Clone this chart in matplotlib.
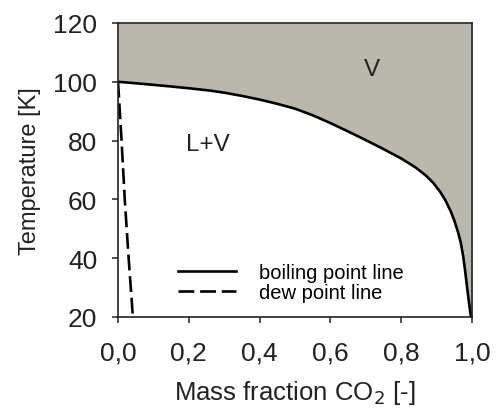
import matplotlib
matplotlib.use("Agg")
import matplotlib.pyplot as plt
from matplotlib.ticker import FuncFormatter

plt.rcParams["font.family"] = ["Liberation Sans", "DejaVu Sans"]

# boiling point line
boil_x = [0.0, 0.05, 0.10, 0.15, 0.20, 0.26, 0.30, 0.35, 0.40, 0.45, 0.50,
          0.55, 0.60, 0.65, 0.70, 0.75, 0.80, 0.84, 0.87, 0.89, 0.91, 0.925,
          0.94, 0.95, 0.96, 0.968, 0.975, 0.98, 0.985, 0.99, 0.995, 1.0]
boil_T = [100, 99.5, 98.95, 98.4, 97.8, 97.0, 96.3, 95.2, 93.95, 92.5, 90.85,
          88.6, 85.95, 83.1, 80.15, 77.1, 73.9, 70.9, 68.05, 65.65, 62.55, 59.6,
          55.85, 52.75, 48.95, 45.3, 40.5, 36.0, 31.0, 26.0, 21.5, 17.0]
# dew point line
dew_x = [0.0, 0.010, 0.019, 0.030, 0.042]
dew_T = [100, 80, 60, 40, 20]

regions = [("V", 0.718, 104.5), ("L+V", 0.253, 79)]

fig = plt.figure(figsize=(4.98, 4.10), dpi=100)
ax = fig.add_axes([0.237, 0.2244, 0.711, 0.7171])

ax.fill_between(boil_x, boil_T, 120, color="#bab8ad", lw=0)
ax.plot(boil_x, boil_T, color="black", lw=1.9, label="boiling point line")
ax.plot(dew_x, dew_T, color="black", lw=1.9, ls=(0, (6, 2.2)), label="dew point line")

for txt, x, y in regions:
    ax.text(x, y, txt, fontsize=17.5, ha="center", va="center", color="#222222")

ax.set_xlim(0, 1)
ax.set_ylim(20, 120)
ax.set_xticks([0, 0.2, 0.4, 0.6, 0.8, 1.0])
ax.set_yticks([20, 40, 60, 80, 100, 120])
ax.xaxis.set_major_formatter(FuncFormatter(lambda v, p: f"{v:.1f}".replace(".", ",")))
ax.tick_params(direction="out", length=4, width=1.1, labelsize=19, colors="#222222")
ax.tick_params(axis="y", pad=11)
ax.tick_params(axis="x", pad=13)
for s in ax.spines.values():
    s.set_linewidth(1.2)
    s.set_color("#222222")

ax.set_xlabel("Mass fraction CO$_2$ [-]", fontsize=18.5, color="#222222", labelpad=10)
ax.set_ylabel("Temperature [K]", fontsize=17, color="#222222", labelpad=9)

ax.legend(loc="lower left", bbox_to_anchor=(0.117, -0.012), frameon=False, fontsize=14.5,
          handlelength=2.9, handletextpad=1.15, labelspacing=0.05)

fig.savefig("out.png", dpi=100)
